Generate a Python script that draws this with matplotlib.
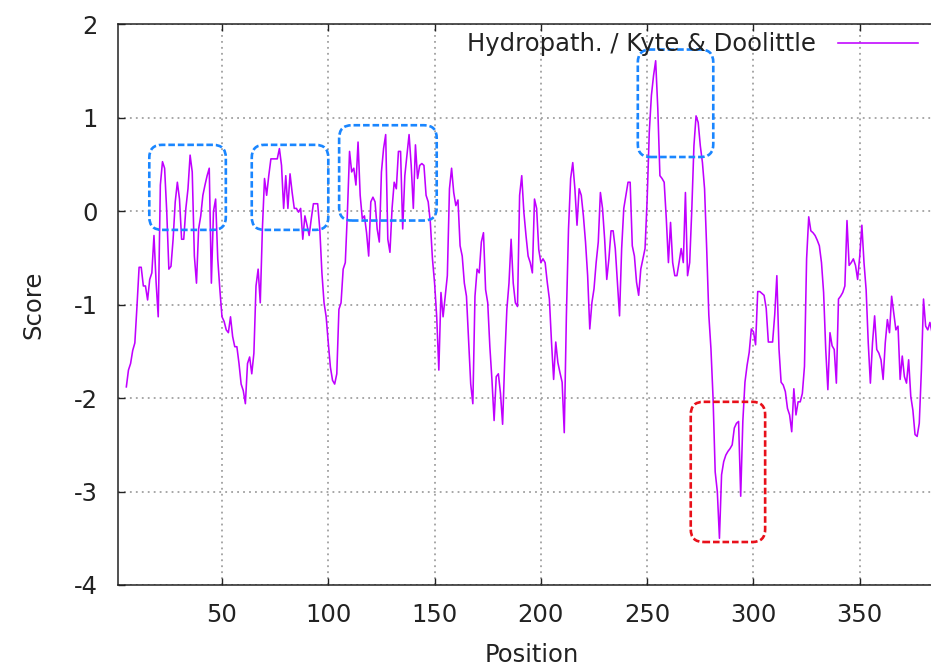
import numpy as np
import matplotlib
matplotlib.use('Agg')
import matplotlib.pyplot as plt
from matplotlib.patches import FancyBboxPatch

plt.rcParams['font.family'] = ['DejaVu Sans']
plt.rcParams['axes.unicode_minus'] = False

# residue positions and Kyte & Doolittle scores
positions = np.arange(5, 385)
scores = [
    -1.88, -1.70, -1.63, -1.49, -1.41, -1.02, -0.60, -0.60, -0.80, -0.80,   # 5
    -0.95, -0.73, -0.66, -0.26, -0.76, -1.13, 0.28, 0.53, 0.46, 0.00,      # 15
    -0.62, -0.59, -0.30, 0.10, 0.31, 0.13, -0.30, -0.30, 0.03, 0.24,       # 25
    0.60, 0.42, -0.48, -0.77, -0.19, -0.05, 0.17, 0.28, 0.38, 0.46,        # 35
    -0.77, 0.00, 0.13, -0.51, -0.84, -1.13, -1.18, -1.27, -1.30, -1.13,    # 45
    -1.34, -1.45, -1.45, -1.63, -1.85, -1.92, -2.06, -1.63, -1.56, -1.74,  # 55
    -1.52, -0.80, -0.62, -0.98, -0.19, 0.35, 0.17, 0.38, 0.56, 0.56,       # 65
    0.56, 0.56, 0.67, 0.49, 0.03, 0.38, 0.03, 0.40, 0.20, 0.03,            # 75
    0.03, -0.01, 0.03, -0.30, -0.05, -0.15, -0.26, -0.08, 0.08, 0.08,      # 85
    0.08, -0.19, -0.66, -0.98, -1.13, -1.41, -1.67, -1.81, -1.85, -1.74,   # 95
    -1.05, -0.98, -0.62, -0.55, -0.01, 0.64, 0.42, 0.46, 0.28, 0.74,       # 105
    0.17, -0.08, -0.05, -0.23, -0.48, 0.10, 0.15, 0.10, -0.19, -0.33,      # 115
    0.42, 0.67, 0.82, -0.30, -0.44, 0.03, 0.31, 0.24, 0.64, 0.64,          # 125
    -0.19, 0.38, 0.60, 0.82, 0.49, 0.03, 0.71, 0.35, 0.49, 0.51,           # 135
    0.49, 0.17, 0.10, -0.12, -0.51, -0.77, -1.13, -1.70, -0.87, -1.13,     # 145
    -0.91, -0.69, 0.24, 0.46, 0.20, 0.06, 0.12, -0.37, -0.48, -0.77,       # 155
    -0.91, -1.38, -1.85, -2.06, -0.91, -0.62, -0.66, -0.33, -0.23, -0.84,  # 165
    -0.98, -1.45, -1.81, -2.24, -1.77, -1.74, -1.95, -2.28, -1.59, -1.05,  # 175
    -0.77, -0.30, -0.77, -0.98, -1.02, 0.17, 0.38, -0.01, -0.26, -0.48,    # 185
    -0.55, -0.66, 0.13, 0.03, -0.41, -0.55, -0.51, -0.55, -0.76, -0.94,    # 195
    -1.40, -1.80, -1.40, -1.62, -1.73, -1.83, -2.37, -1.12, -0.19, 0.35,   # 205
    0.52, 0.24, -0.15, 0.24, 0.17, -0.05, -0.33, -0.69, -1.26, -0.98,      # 215
    -0.83, -0.55, -0.33, 0.20, 0.03, -0.30, -0.73, -0.51, -0.21, -0.21,    # 225
    -0.40, -0.76, -1.12, -0.40, 0.03, 0.17, 0.31, 0.31, -0.37, -0.48,      # 235
    -0.76, -0.90, -0.62, -0.51, -0.40, 0.13, 0.85, 1.24, 1.45, 1.61,       # 245
    1.10, 0.38, 0.35, 0.31, -0.08, -0.55, -0.12, -0.55, -0.69, -0.69,      # 255
    -0.55, -0.40, -0.55, 0.20, -0.69, -0.55, 0.02, 0.70, 1.02, 0.95,       # 265
    0.70, 0.52, 0.24, -0.40, -1.11, -1.47, -2.00, -2.79, -3.00, -3.50,     # 275
    -2.82, -2.68, -2.61, -2.57, -2.54, -2.50, -2.32, -2.27, -2.25, -3.05,  # 285
    -2.25, -1.83, -1.65, -1.51, -1.26, -1.29, -1.43, -0.86, -0.86, -0.88,  # 295
    -0.90, -1.04, -1.40, -1.40, -1.40, -1.11, -0.69, -1.47, -1.83, -1.86,  # 305
    -1.93, -2.11, -2.18, -2.36, -1.90, -2.18, -2.04, -2.04, -1.95, -1.66,  # 315
    -0.51, -0.06, -0.21, -0.23, -0.26, -0.31, -0.37, -0.55, -0.87, -1.48,  # 325
    -1.91, -1.30, -1.44, -1.48, -1.84, -0.94, -0.91, -0.87, -0.80, -0.10,  # 335
    -0.58, -0.55, -0.51, -0.58, -0.73, -0.48, -0.15, -0.55, -0.84, -1.41,  # 345
    -1.84, -1.41, -1.12, -1.48, -1.52, -1.59, -1.80, -1.41, -1.16, -1.30,  # 355
    -0.91, -1.09, -1.27, -1.23, -1.80, -1.55, -1.77, -1.84, -1.59, -1.98,  # 365
    -2.13, -2.39, -2.41, -2.27, -1.70, -0.94, -1.23, -1.27, -1.19, -1.30,  # 375
]

xticks = [50, 100, 150, 200, 250, 300, 350]
yticks = [-4, -3, -2, -1, 0, 1, 2]
legend_label = 'Hydropath. / Kyte & Doolittle'

# highlight boxes: (x0, x1, y0, y1) in data units
blue_boxes = [
    (15.8, 51.8, -0.20, 0.71),
    (64.0, 100.0, -0.20, 0.71),
    (105.1, 151.0, -0.10, 0.92),
    (245.6, 281.1, 0.58, 1.73),
]
red_boxes = [
    (270.5, 305.5, -3.54, -2.04),
]

W, H = 931, 668
fig = plt.figure(figsize=(W / 100, H / 100), dpi=100)
L, R, T, B = 118.3, 935.0, 24.3, 585.0
ax = fig.add_axes([L / W, 1 - B / H, (R - L) / W, (B - T) / H])

line_col = '#c000ff'
ax.plot(positions, scores, color=line_col, lw=1.15, label=legend_label)

ax.set_xlim(1.22, 385.4)
ax.set_ylim(-4, 2)
ax.set_xticks(xticks)
ax.set_yticks(yticks)
ax.grid(True, color='#a0a0a0', linestyle=(0, (1, 2.3)), lw=1.3)
ax.tick_params(direction='in', length=5, width=1, top=True, right=False,
               labelsize=17.5, colors='#222222')
ax.tick_params(axis='x', pad=13)
ax.tick_params(axis='y', pad=15)
for s in ['left', 'bottom', 'top']:
    ax.spines[s].set_linewidth(1.1)
    ax.spines[s].set_color('#222222')
ax.spines['right'].set_visible(False)

# rounded dashed boxes, corner kept circular via mutation_aspect
xscale = (R - L) / (385.4 - 1.22)
yscale = (B - T) / 6.0
aspect = xscale / yscale
for boxes, col in [(blue_boxes, '#1a86ff'), (red_boxes, '#e8101a')]:
    for x0, x1, y0, y1 in boxes:
        p = FancyBboxPatch((x0, y0), x1 - x0, y1 - y0,
                           boxstyle='round,pad=0,rounding_size=6',
                           mutation_aspect=aspect, fill=False,
                           edgecolor=col, lw=1.9, linestyle=(0, (2.5, 1.1)),
                           zorder=5)
        ax.add_patch(p)

leg = ax.legend(loc='center right', bbox_to_anchor=(918.3 / W, 1 - 44.3 / H),
                bbox_transform=fig.transFigure, frameon=False, markerfirst=False,
                fontsize=17.5, handlelength=3.3, handletextpad=0.9,
                borderpad=0, borderaxespad=0)
for t in leg.get_texts():
    t.set_color('#222222')

fig.text(532 / W, 1 - 655 / H, 'Position', ha='center', va='center',
         fontsize=17.5, color='#222222')
fig.text(33 / W, 1 - 305 / H, 'Score', ha='center', va='center',
         rotation=90, fontsize=17.5, color='#222222')

fig.savefig('out.png', dpi=100)
